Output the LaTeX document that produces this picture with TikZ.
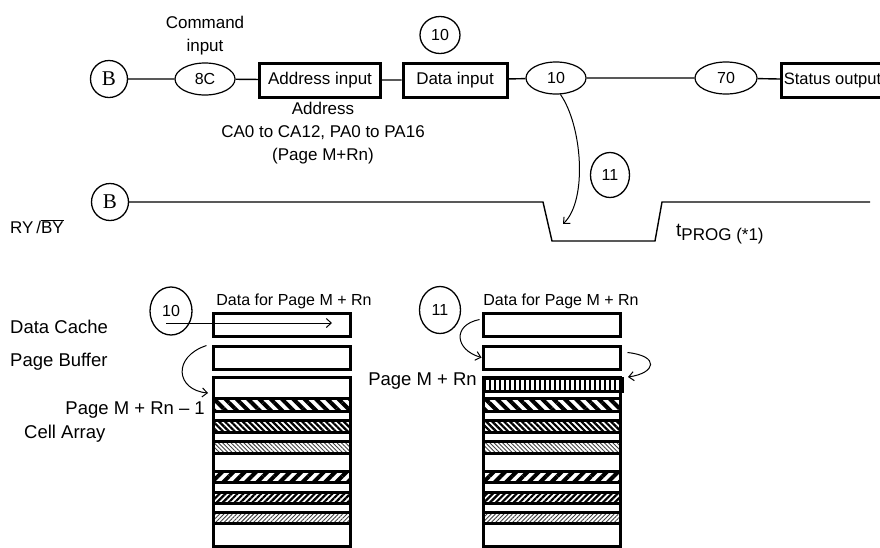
\documentclass[tikz,border=0pt]{standalone}
\usepackage{fontspec}
\setmainfont{Liberation Sans}
\newfontfamily\serifB{Liberation Serif}
\usepackage{tikz}
\usetikzlibrary{arrows.meta, shapes.geometric, positioning, patterns.meta, calc}

\tikzset{
	markB/.style={circle, draw, line width=1.3pt, minimum size=37pt, inner sep=0pt, font=\serifB\fontsize{21}{22}\selectfont},
	cmdoval/.style={ellipse, draw, line width=1.2pt, minimum width=60pt, minimum height=32pt, inner sep=0pt, font=\fontsize{16}{19}\selectfont},
	stepbox/.style={draw, line width=3pt, minimum height=34pt, inner sep=0pt, font=\fontsize{17}{20}\selectfont},
	numcirc/.style={ellipse, draw, line width=1.3pt, inner sep=0pt, font=\fontsize{16}{19}\selectfont},
	wire/.style={line width=1.4pt},
	flow/.style={line width=1pt, -{Straight Barb[length=5pt, width=9pt]}},
	lbl/.style={inner sep=0pt, font=\fontsize{17}{23}\selectfont, align=center},
	biglbl/.style={inner sep=0pt, font=\fontsize{18.5}{21}\selectfont},
	regbox/.style={draw, line width=3pt, minimum width=137pt, minimum height=23pt, inner sep=0pt},
	rowbox/.style={draw, line width=3pt},
	hatchA/.style={rowbox, pattern={Lines[angle=-45, distance=8pt, line width=4pt]}},
	hatchB/.style={rowbox, pattern={Lines[angle=-45, distance=4.2pt, line width=2.2pt]}},
	hatchC/.style={rowbox, pattern={Lines[angle=-45, distance=3pt, line width=0.9pt]}, pattern color=black!75},
	hatchD/.style={rowbox, pattern={Lines[angle=45, distance=8pt, line width=4pt]}},
	hatchE/.style={rowbox, pattern={Lines[angle=45, distance=4.2pt, line width=2.2pt]}},
	hatchF/.style={rowbox, pattern={Lines[angle=45, distance=3pt, line width=0.9pt]}, pattern color=black!75},
	hatchV/.style={rowbox, pattern={Lines[angle=90, distance=5pt, line width=1.8pt]}}
}

\begin{document}
\begin{tikzpicture}[x=1pt, y=-1pt]
	\useasboundingbox (0,0) rectangle (880,547);

	% command sequence
	\node[markB] (b1) at (109,79) {B};
	\node[cmdoval] (c8C) at (205,79) {8C};
	\node[stepbox, minimum width=121pt] (addr) at (320,80) {Address input};
	\node[stepbox, minimum width=104pt] (dat) at (455,80) {Data input};
	\node[cmdoval] (c10) at (556,78) {10};
	\node[cmdoval, minimum width=62pt] (c70) at (726,78) {70};
	\node[stepbox, minimum width=102pt, anchor=west, font=\fontsize{16.5}{20}\selectfont] (stat) at (780,80) {Status output};
	\draw[wire] (b1) -- (c8C) -- (addr) -- (dat) -- (c10) -- (c70) -- (stat);

	\node[lbl] (cmdtxt) at (205,36) {Command\\input};
	\node[lbl] (addrtxt) at (323,133) {Address\\CA0 to CA12, PA0 to PA16\\(Page M+Rn)};
	\node[numcirc, minimum width=40pt, minimum height=37pt] (n10) at (440,35) {10};

	% ready/busy
	\node[markB] (b2) at (110,202) {B};
	\coordinate (ryend) at (870,202);
	\draw[wire] (b2) -- (543,202) -- (552,241) -- (655,241) -- (662,202) -- (ryend);
	\node[lbl, anchor=west] (rytxt) at (10,227) {RY\,/$\overline{\mbox{BY}}$};
	\node[lbl, anchor=west] (tprog) at (676,234) {\fontsize{19}{20}\selectfont t\raisebox{-0.4ex}{\fontsize{17}{20}\selectfont PROG (*1)}};
	\coordinate (busy) at (563,224);
	\draw[flow] (c10.-75) .. controls (582,125) and (588,200) .. (busy);
	\node[numcirc, minimum width=39pt, minimum height=45pt] (n11) at (610,175) {11};

	% left register view
	\node[biglbl, anchor=west] (dcache) at (10,327) {Data Cache};
	\node[biglbl, anchor=west] (pbuf) at (10,362) {Page Buffer};
	\node[biglbl, anchor=east] (pgprev) at (205,410) {Page M + Rn -- 1};
	\node[biglbl, anchor=west] (cells) at (24,434) {Cell Array};
	\node[numcirc, minimum width=42pt, minimum height=48pt] (n10b) at (171,311) {10};
	\node[regbox] (dcL) at (281.5,324.5) {};
	\node[regbox] (pbL) at (281.5,357.5) {};
	\node[lbl, font=\fontsize{16}{19}\selectfont] (datL) at (294,301) {Data for Page M + Rn};
	\coordinate (dinL) at (166,323);
	\coordinate (dendL) at (332,323);
	\draw[flow] (dinL) -- (dendL);
	\coordinate (pgtopL) at (208,393);
	\draw[flow] (pbL.north west) ++(-5,1) .. controls (172,357) and (176,390) .. (pgtopL);

	% right register view
	\node[numcirc, minimum width=41pt, minimum height=47pt] (n11b) at (440,310) {11};
	\node[regbox] (dcR) at (551.5,324.5) {};
	\node[regbox] (pbR) at (551.5,357.5) {};
	\node[lbl, font=\fontsize{16}{19}\selectfont] (datR) at (561,301) {Data for Page M + Rn};
	\node[biglbl, anchor=east] (pgcur) at (477,381) {Page M + Rn};
	\coordinate (pgtopR) at (628,377);
	\draw[flow] (dcR.west) ++(-2,-5) .. controls (452,325) and (455,350) .. (pbR.west);
	\draw[flow] (pbR.east) ++(6,-5) .. controls (660,356) and (656,373) .. (pgtopR);

	% cell arrays
	\draw[rowbox] (213,377) rectangle (350,546);
	\draw[rowbox] (483,377) rectangle (620,546);
	\draw[hatchV] (483,378) rectangle (622,391);
	\foreach \yt/\yb/\hs in {398/411/hatchA, 420/432/hatchB, 441/453/hatchC,
		471/482/hatchD, 492/503/hatchE, 512/523/hatchF} {
		\draw[\hs] (213,\yt) rectangle (350,\yb);
		\draw[\hs] (483,\yt) rectangle (620,\yb);
	}
\end{tikzpicture}
\end{document}
